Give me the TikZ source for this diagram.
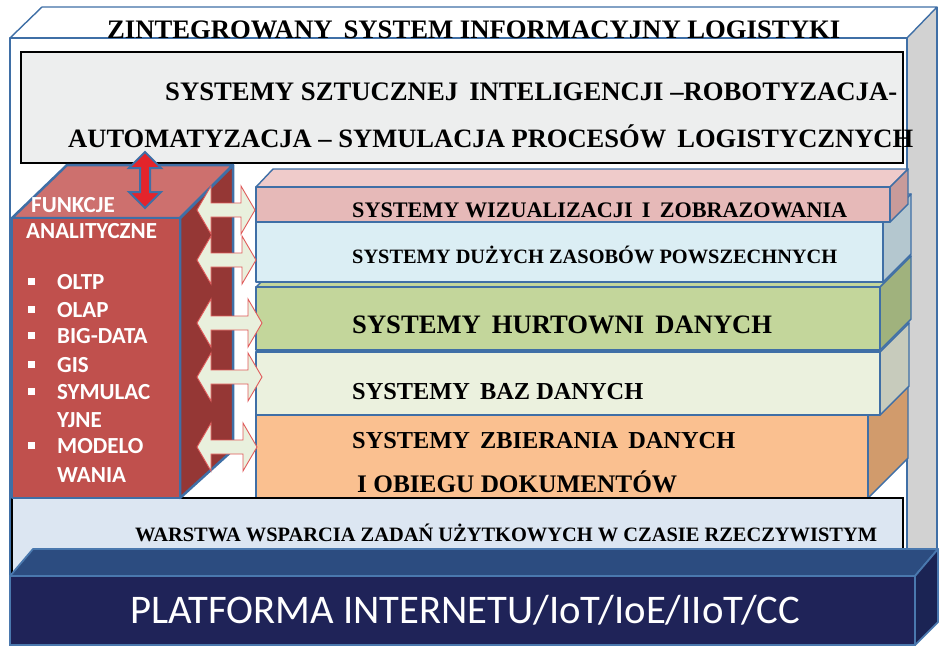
\documentclass[tikz,border=0pt]{standalone}
\usepackage{fontspec}
\usepackage{graphicx}
\setmainfont{Liberation Serif}
\newfontfamily\calfont{Carlito}
\definecolor{bordblue}{HTML}{3F6FA6}
\definecolor{outgrey}{HTML}{D2D2D2}
\definecolor{aigrey}{HTML}{EDEEEE}
\definecolor{pinkF}{HTML}{E6B9B8}
\definecolor{pinkT}{HTML}{EFCBCA}
\definecolor{pinkS}{HTML}{C89B9A}
\definecolor{blueF}{HTML}{DBEEF4}
\definecolor{blueS}{HTML}{B4C7CF}
\definecolor{greenF}{HTML}{C3D69B}
\definecolor{greenS}{HTML}{A0B27D}
\definecolor{bazF}{HTML}{EBF1DE}
\definecolor{bazS}{HTML}{C7CBBC}
\definecolor{orF}{HTML}{FAC090}
\definecolor{orS}{HTML}{D19B6C}
\definecolor{redF}{HTML}{C0504D}
\definecolor{redT}{HTML}{CD706E}
\definecolor{redS}{HTML}{953735}
\definecolor{arrred}{HTML}{E3242B}
\definecolor{garrF}{HTML}{E9F0DD}
\definecolor{garrD}{HTML}{E05A5A}
\definecolor{warF}{HTML}{DCE6F2}
\definecolor{platF}{HTML}{1F2358}
\definecolor{platT}{HTML}{2C4C80}
\definecolor{platS}{HTML}{1B2454}
\definecolor{platB}{HTML}{4A78AE}
\newcommand\fitw[2]{\resizebox{#1pt}{!}{#2}}
\begin{document}
\begin{tikzpicture}[x=1pt,y=-1pt,
  facebox/.style={draw=bordblue,line width=1.4pt,line join=round},
  thickbox/.style={draw=bordblue,line width=2.5pt,line join=round},
  lbl/.style={anchor=base west,inner sep=0pt,font=\bfseries},
  redlbl/.style={anchor=base west,inner sep=0pt,text=white,font=\calfont\bfseries\fontsize{23}{23}\selectfont},
  garrow/.style={fill=garrF,draw=garrD,line width=0.9pt,line join=miter},
  bulletsq/.style={fill=white,draw=none}]
\useasboundingbox (0,0) rectangle (939,649);

% outer box
\fill[outgrey] (907,38) -- (937,7) -- (937,560) -- (907,580) -- cycle;
\draw[facebox,fill=white] (10,38) -- (42,7) -- (937,7) -- (907,38) -- cycle;
\draw[facebox] (907,38) -- (907,580);
\draw[facebox] (937,7) -- (937,560);
\draw[facebox,fill=white] (10,38) rectangle (907,580);
\node[lbl] (title) at (107,38) {\fitw{733}{ZINTEGROWANY\, SYSTEM INFORMACYJNY LOGISTYKI}};

% AI box
\draw[fill=aigrey,draw=black,line width=2pt] (21,52) rectangle (903,163);
\node[lbl] (ai1) at (165,100) {\fitw{732}{SYSTEMY SZTUCZNEJ\, INTELIGENCJI –ROBOTYZACJA-}};
\node[lbl] (ai2) at (68,147) {\fitw{845}{AUTOMATYZACJA – SYMULACJA PROCESÓW\, LOGISTYCZNYCH}};

% layers (bottom to top)
% orange
\draw[facebox,fill=orF] (256,415) -- (296,375) -- (908,375) -- (868,415) -- cycle;
\draw[facebox,fill=orS] (868,415) -- (908,375) -- (908,458) -- (868,498) -- cycle;
\draw[facebox,fill=orF] (256,415) rectangle (868,498);
% baz
\draw[facebox,fill=bazF] (256,352) -- (285,323) -- (909,323) -- (880,352) -- cycle;
\draw[facebox,fill=bazS] (880,352) -- (909,323) -- (909,386) -- (880,415) -- cycle;
\draw[facebox,fill=bazF] (256,352) rectangle (880,415);
% green
\draw[facebox,fill=greenF] (256,287) -- (287,256) -- (911,256) -- (880,287) -- cycle;
\draw[facebox,fill=greenS] (880,287) -- (911,256) -- (911,319) -- (880,350) -- cycle;
\draw[facebox,fill=greenF] (256,287) rectangle (880,350);
% blue
\draw[facebox,fill=blueF] (256,222) -- (284,194) -- (911,194) -- (883,222) -- cycle;
\draw[facebox,fill=blueS] (883,222) -- (911,194) -- (911,254) -- (883,282) -- cycle;
\draw[facebox,fill=blueF] (256,222) rectangle (883,282);
% pink
\draw[facebox,fill=pinkT] (256,187) -- (273,169) -- (908,169) -- (890,187) -- cycle;
\draw[facebox,fill=pinkS] (890,187) -- (908,169) -- (908,204) -- (890,222) -- cycle;
\draw[facebox,fill=pinkF] (256,187) rectangle (890,222);

\node[lbl] (lwiz) at (352,217) {\fitw{495}{SYSTEMY WIZUALIZACJI\, I\, ZOBRAZOWANIA}};
\node[lbl] (lduz) at (352,263) {\fitw{485}{SYSTEMY DUŻYCH ZASOBÓW POWSZECHNYCH}};
\node[lbl] (lhur) at (352,333) {\fitw{420}{SYSTEMY\, HURTOWNI\, DANYCH}};
\node[lbl] (lbaz) at (352,399) {\fitw{291}{SYSTEMY\, BAZ DANYCH}};
\node[lbl] (lzb1) at (352,448) {\fitw{383}{SYSTEMY\, ZBIERANIA\, DANYCH}};
\node[lbl] (lzb2) at (357,492) {\fitw{320}{I OBIEGU DOKUMENTÓW}};

% warstwa
\draw[fill=warF,draw=black,line width=1.6pt] (12,498) rectangle (903,575);
\node[lbl] (lwar) at (135,541) {\fitw{742}{WARSTWA WSPARCIA ZADAŃ UŻYTKOWYCH W CZASIE RZECZYWISTYM}};

% red box
\draw[thickbox,fill=redS] (180,218) -- (233,165) -- (233,450) -- (180,498) -- cycle;
\draw[thickbox,fill=redT] (12,218) -- (67,165) -- (233,165) -- (180,218) -- cycle;
\draw[thickbox,fill=redF] (12,218) rectangle (180,498);
\node[redlbl] (fun) at (31,212) {FUNKCJE};
\node[redlbl] (ana) at (26,238) {ANALITYCZNE};
\foreach \yb/\t/\b [count=\i] in {289/OLTP/1,317/OLAP/1,343/BIG-DATA/1,372/GIS/1,399/SYMULAC/1,427/YJNE/0,453/MODELO/1,482/WANIA/0}{
  \node[redlbl] (it\i) at (57,\yb) {\t};
  \ifnum\b=1 \fill[bulletsq] (28,\yb-4) rectangle (35,\yb-11); \fi
}

% vertical red double arrow
\draw[fill=arrred,draw=bordblue,line width=2pt,line join=miter]
  (145,152) -- (161,168) -- (150,168) -- (150,192) -- (161,192) -- (145,208)
  -- (129,192) -- (140,192) -- (140,168) -- (129,168) -- cycle;

% horizontal double arrows
\newcommand\harrow[3]{%
  \draw[garrow] (#1,#3) -- (#1+14,#3-24) -- (#1+14,#3-7) -- (#2-14,#3-7) -- (#2-14,#3-24) -- (#2,#3)
   -- (#2-14,#3+24) -- (#2-14,#3+7) -- (#1+14,#3+7) -- (#1+14,#3+24) -- cycle;}
\harrow{197}{255}{210}
\harrow{197}{256}{260}
\harrow{197}{262}{323}
\harrow{197}{262}{377}
\harrow{197}{257}{447}

% platform
\draw[draw=platB,line width=1.8pt,fill=platT,line join=round] (10,576) -- (33,549) -- (938,549) -- (915,576) -- cycle;
\draw[draw=platB,line width=1.8pt,fill=platS,line join=round] (915,576) -- (938,549) -- (938,622) -- (915,645) -- cycle;
\draw[draw=platB,line width=1.8pt,fill=platF] (10,576) rectangle (915,645);
\node[anchor=base west,inner sep=0pt,text=white,font=\calfont] (plat) at (130,623) {\fitw{670}{PLATFORMA INTERNETU/IoT/IoE/IIoT/CC}};
\end{tikzpicture}
\end{document}
